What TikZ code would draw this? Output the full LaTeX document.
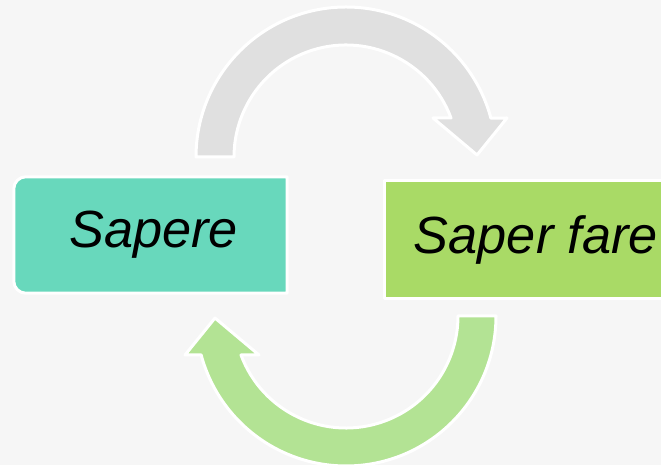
\documentclass[tikz,border=0pt]{standalone}
\usepackage{fontspec}
\setmainfont{Liberation Sans}
\usetikzlibrary{backgrounds}
\definecolor{sapereteal}{RGB}{104,216,188}
\definecolor{farelime}{RGB}{169,218,102}
\definecolor{loopgrey}{RGB}{224,224,224}
\definecolor{loopgreen}{RGB}{179,227,148}
\definecolor{paper}{RGB}{246,246,246}
\begin{document}
\begin{tikzpicture}[x=1bp,y=1bp,
  box/.style={rectangle,inner sep=0pt,font=\fontsize{52.5}{60}\selectfont\itshape},
  rim/.style={draw=white,line width=3bp,line join=round}]

\useasboundingbox (0,0) rectangle (661,465);

\node[box,minimum width=273bp,minimum height=116bp] (sapere) at (150.5,230) {\hspace{6bp}Sapere};
\node[box,minimum width=302bp,minimum height=117bp] (saperfare) at (536,225.5) {Saper fare};

\begin{scope}[on background layer]
\fill[paper] (0,0) rectangle (661,465);
\fill[sapereteal,rim] (sapere.north east) -- (sapere.south east)
  -- ([xshift=12bp]sapere.south west) arc[start angle=270,end angle=180,radius=12bp]
  -- ([yshift=-12bp]sapere.north west) arc[start angle=180,end angle=90,radius=12bp] -- cycle;
\fill[farelime,rim] (saperfare.south west) rectangle (saperfare.north east);
\end{scope}

\fill[loopgrey,rim] (196,308) arc[start angle=180,end angle=15,radius=150]
  -- (507,347) -- (477,310) -- (433,347) -- (451,347)
  arc[start angle=20.38,end angle=180,radius=112] -- cycle;

\fill[loopgreen,rim] (496,149) arc[start angle=0,end angle=-165,radius=150]
  -- (185,110) -- (215,147) -- (259,110) -- (241,110)
  arc[start angle=-159.62,end angle=0,radius=112] -- cycle;

\end{tikzpicture}
\end{document}
